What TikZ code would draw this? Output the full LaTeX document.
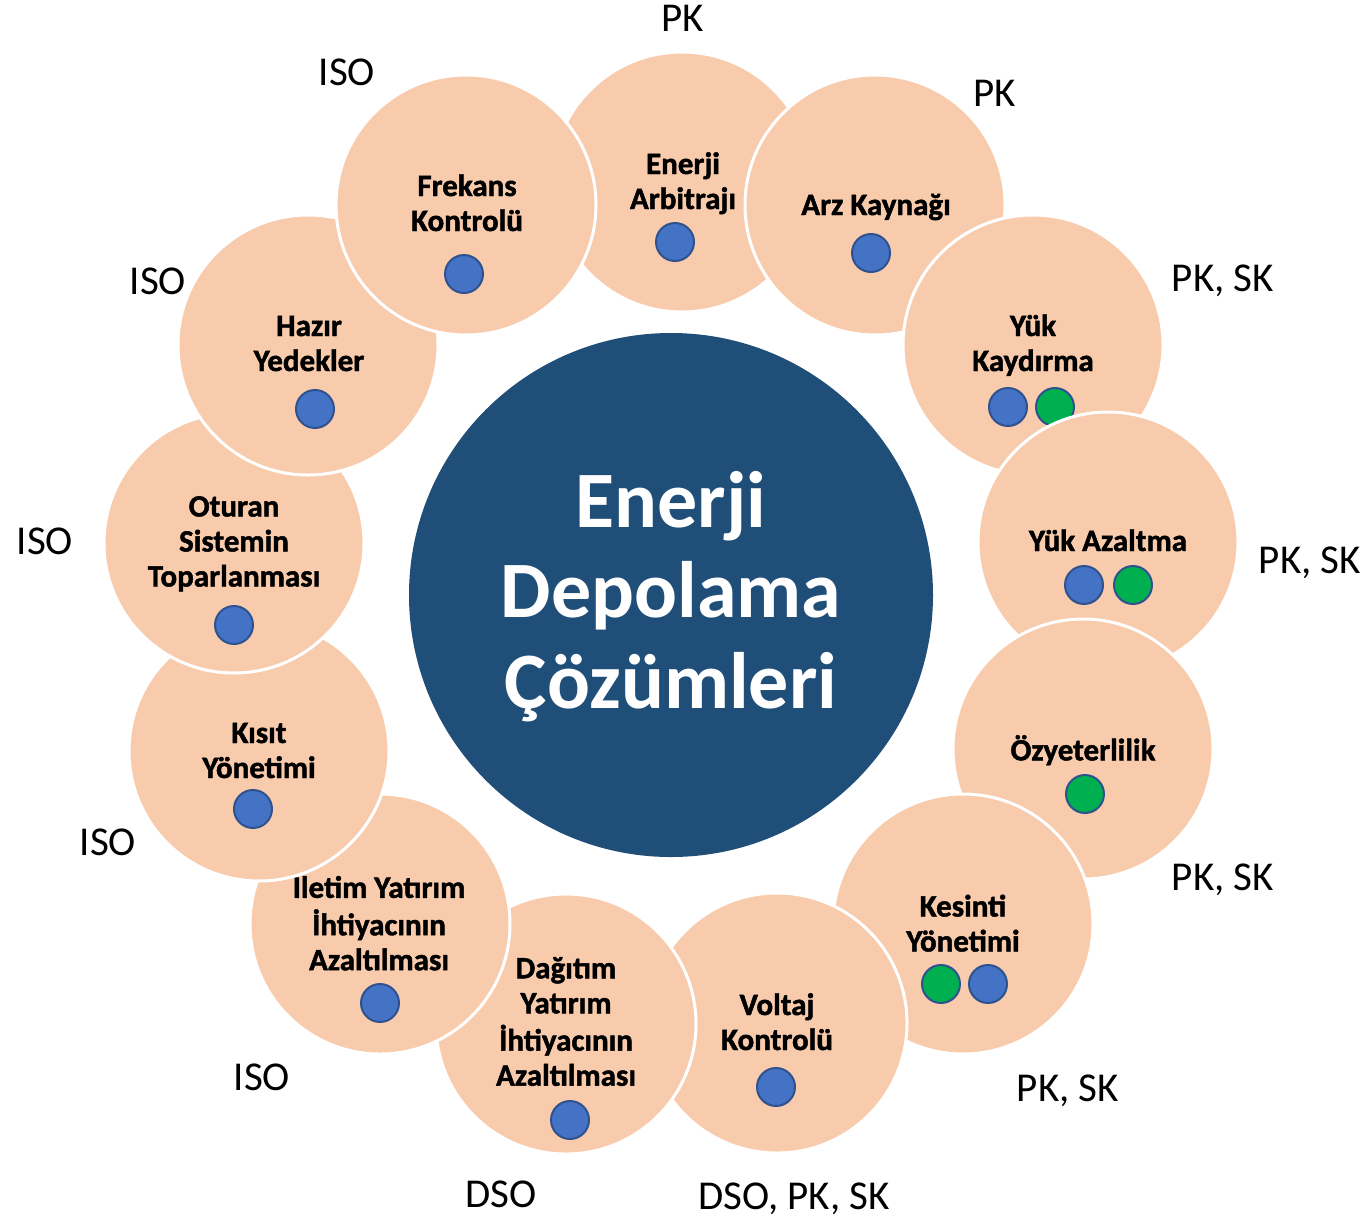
\documentclass[tikz,border=0pt]{standalone}
\usepackage{fontspec}
\setmainfont{Carlito}
\newfontfamily\heavyfam{Carlito}[BoldFeatures={FakeBold=1.5}]
\definecolor{peach}{HTML}{F8CBAD}
\definecolor{navy}{HTML}{1F4E79}
\definecolor{dotblue}{HTML}{4472C4}
\definecolor{dotgreen}{HTML}{00B050}
\definecolor{dotedge}{HTML}{2F528F}
\tikzset{
  usecase/.style={circle, fill=peach, draw=white, line width=3pt, minimum size=260pt, inner sep=0pt},
  hub/.style={circle, fill=navy, minimum size=524pt, inner sep=0pt},
  bdot/.style={circle, fill=dotblue, draw=dotedge, line width=2pt, minimum size=38pt, inner sep=0pt},
  gdot/.style={bdot, fill=dotgreen},
  ctext/.style={align=center, font=\heavyfam\bfseries\fontsize{31}{35}\selectfont, inner sep=0pt},
  htext/.style={align=center, text=white, font=\bfseries\fontsize{80}{90.5}\selectfont, inner sep=0pt},
  role/.style={anchor=base, font=\fontsize{41}{48}\selectfont, inner sep=0pt},
}
\begin{document}
\begin{tikzpicture}[x=1pt,y=-1pt]
\useasboundingbox (0,0) rectangle (1371,1219);
\fill[white] (0,0) rectangle (1371,1219);

% hub
\node[hub] (hub) at (671,595) {};
\node[htext] (hubt) at (671,599.4) {Enerji\strut\\Depolama\strut\\Çözümleri\strut};

% outer circles (drawn clockwise, each over the previous)
\node[usecase] (c1) at (682,182) {};
\node[ctext] (t1) at (683,184.5) {Enerji\strut\\Arbitrajı\strut};
\node[bdot] (d1) at (675,242) {};

\node[usecase] (c2) at (875,205) {};
\node[ctext] (t2) at (876,208) {Arz Kaynağı\strut};
\node[bdot] (d2) at (871,253) {};

\node[usecase] (c3) at (1033,345) {};
\node[ctext] (t3) at (1033,346.5) {Yük\strut\\Kaydırma\strut};
\node[bdot] (d3a) at (1008,407) {};
\node[gdot] (d3b) at (1055,407) {};

\node[usecase] (c4) at (1108,542) {};
\node[ctext] (t4) at (1108,544) {Yük Azaltma\strut};
\node[bdot] (d4a) at (1084,585) {};
\node[gdot] (d4b) at (1133,585) {};

\node[usecase] (c5) at (1083,749) {};
\node[ctext] (t5) at (1083,753) {Özyeterlilik\strut};
\node[gdot] (d5) at (1085,794) {};

\node[usecase] (c6) at (963,924) {};
\node[ctext] (t6) at (963,927) {Kesinti\strut\\Yönetimi\strut};
\node[gdot] (d6a) at (941,984) {};
\node[bdot] (d6b) at (988,984) {};

\node[usecase] (c7) at (777,1023) {};
\node[ctext] (t7) at (777,1025.5) {Voltaj\strut\\Kontrolü\strut};
\node[bdot] (d7) at (776,1087) {};

\node[usecase] (c8) at (566,1024) {};
\node[ctext] (t8) at (566,1025) {Dağıtım\strut\\Yatırım\strut\\İhtiyacının\strut\\Azaltılması\strut};
\node[bdot] (d8) at (570,1120) {};

\node[usecase] (c9) at (380,924) {};
\node[ctext] (t9) at (379,927) {Iletim Yatırım\strut\\İhtiyacının\strut\\Azaltılması\strut};
\node[bdot] (d9) at (380,1003) {};

\node[usecase] (c10) at (259,751) {};
\node[ctext] (t10) at (259,753.5) {Kısıt\strut\\Yönetimi\strut};
\node[bdot] (d10) at (253,809) {};

\node[usecase] (c11) at (234,543) {};
\node[ctext] (t11) at (234,544.5) {Oturan\strut\\Sistemin\strut\\Toparlanması\strut};
\node[bdot] (d11) at (234,625) {};

\node[usecase] (c12) at (308,345) {};
\node[ctext] (t12) at (309,346.5) {Hazır\strut\\Yedekler\strut};
\node[bdot] (d12) at (315,409) {};

\node[usecase] (c13) at (466,205) {};
\node[ctext] (t13) at (467,206.5) {Frekans\strut\\Kontrolü\strut};
\node[bdot] (d13) at (464,274) {};

% stakeholder labels
\node[role] (r1) at (683,31) {PK};
\node[role] (r2) at (995,106) {PK};
\node[role] (r3) at (1223,291) {PK, SK};
\node[role] (r4) at (1310,573) {PK, SK};
\node[role] (r5) at (1223,890) {PK, SK};
\node[role] (r6) at (1068,1101) {PK, SK};
\node[role] (r7) at (794,1209) {DSO, PK, SK};
\node[role] (r8) at (501,1207) {DSO};
\node[role] (r9) at (262,1090) {ISO};
\node[role] (r10) at (108,855) {ISO};
\node[role] (r11) at (45,554) {ISO};
\node[role] (r12) at (158,294) {ISO};
\node[role] (r13) at (347,85) {ISO};
\end{tikzpicture}
\end{document}
